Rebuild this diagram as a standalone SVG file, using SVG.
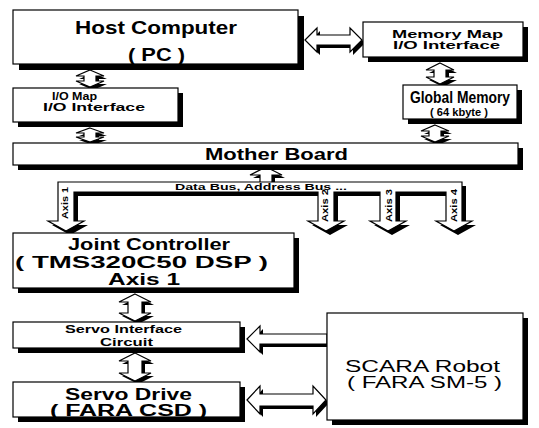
<svg xmlns="http://www.w3.org/2000/svg" xmlns:xlink="http://www.w3.org/1999/xlink" width="539" height="428" viewBox="0 0 539 428">
<style>
.box{fill:#fff;stroke:#000;stroke-width:1.2}
.sh{fill:#000}
.ar{fill:#fff;stroke:#000;stroke-width:1.2;stroke-linejoin:miter}
text{font-family:"Liberation Sans",Arial,sans-serif;fill:#000}
.b{font-weight:bold}
.n{font-weight:normal}
</style>
<defs>
<path id="a_host_io" d="M90,70 L104,76 H96 V81 H104 L90,87 L76,81 H84 V76 H76 Z"/>
<path id="a_io_mb" d="M90,128 L104,133 H96 V137 H104 L90,142 L76,137 H84 V133 H76 Z"/>
<path id="a_mm_gm" d="M440,63 L454,70 H446 V77 H454 L440,84 L426,77 H434 V70 H426 Z"/>
<path id="a_gm_mb" d="M435,125 L449,131 H441 V136 H449 L435,142 L421,136 H429 V131 H421 Z"/>
<path id="a_jc_si" d="M135,294 L151,302 H142 V313 H151 L135,321 L119,313 H128 V302 H119 Z"/>
<path id="a_si_sd" d="M135,353 L151,361 H142 V373 H151 L135,381 L119,373 H128 V361 H119 Z"/>
<path id="a_host_mm" d="M305,40 L317,28 V35 H350 V28 L362,40 L350,52 V45 H317 V52 Z"/>
<path id="a_sd_sc" d="M247,400 L260,386 V394 H313 V386 L326,400 L313,414 V406 H260 V414 Z"/>
<path id="a_sc_si" d="M247,339 L260,326 V334 H327 V344 H260 V352 Z"/>
<path id="a_bus_up" d="M266,167 L282,175 H272 V184 H260 V175 H250 Z"/>
<path id="bus" d="M58,182 H462 V221 H472 L454,231 L436,221 H446 V192 H396 V221 H406 L388,231 L370,221 H380 V192 H334 V221 H344 L326,231 L308,221 H318 V192 H74 V221 H84 L66,231 L48,221 H58 Z"/>
</defs>

<g id="connectors">
  <use xlink:href="#a_host_io" class="sh" transform="translate(3,3)"/><use xlink:href="#a_host_io" class="ar"/>
  <use xlink:href="#a_io_mb" class="sh" transform="translate(3,3)"/><use xlink:href="#a_io_mb" class="ar"/>
  <use xlink:href="#a_mm_gm" class="sh" transform="translate(3,3)"/><use xlink:href="#a_mm_gm" class="ar"/>
  <use xlink:href="#a_gm_mb" class="sh" transform="translate(3,3)"/><use xlink:href="#a_gm_mb" class="ar"/>
  <use xlink:href="#a_jc_si" class="sh" transform="translate(3,3)"/><use xlink:href="#a_jc_si" class="ar"/>
  <use xlink:href="#a_si_sd" class="sh" transform="translate(3,3)"/><use xlink:href="#a_si_sd" class="ar"/>
  <use xlink:href="#a_host_mm" class="sh" transform="translate(3,3)"/><use xlink:href="#a_host_mm" class="ar"/>
  <use xlink:href="#a_sd_sc" class="sh" transform="translate(3,3)"/><use xlink:href="#a_sd_sc" class="ar"/>
  <use xlink:href="#a_sc_si" class="sh" transform="translate(3,3)"/><use xlink:href="#a_sc_si" class="ar"/>
  <use xlink:href="#a_bus_up" class="sh" transform="translate(3,3)"/><use xlink:href="#a_bus_up" class="ar"/>
  <use xlink:href="#bus" class="sh" transform="translate(4,4)"/><use xlink:href="#bus" class="ar"/>
  <text class="b" x="175" y="190" font-size="8.5" textLength="172" lengthAdjust="spacingAndGlyphs">Data Bus,   Address Bus ...</text>
  <text class="b" transform="translate(68,219) rotate(-90)" font-size="8.5" textLength="32" lengthAdjust="spacingAndGlyphs">Axis 1</text>
  <text class="b" transform="translate(328,222) rotate(-90)" font-size="8.5" textLength="33" lengthAdjust="spacingAndGlyphs">Axis 2</text>
  <text class="b" transform="translate(392,222) rotate(-90)" font-size="8.5" textLength="33" lengthAdjust="spacingAndGlyphs">Axis 3</text>
  <text class="b" transform="translate(457,222) rotate(-90)" font-size="8.5" textLength="33" lengthAdjust="spacingAndGlyphs">Axis 4</text>
</g>

<g id="host">
  <rect class="sh" x="19" y="16" width="285" height="54"/>
  <rect class="box" x="13" y="10" width="285" height="54"/>
  <text class="b" x="75" y="34" font-size="18" textLength="162" lengthAdjust="spacingAndGlyphs">Host Computer</text>
  <text class="b" x="128" y="61" font-size="18" textLength="57" lengthAdjust="spacingAndGlyphs">( PC )</text>
</g>

<g id="memmap">
  <rect class="sh" x="368" y="27" width="160" height="35"/>
  <rect class="box" x="363" y="22" width="160" height="35"/>
  <text class="b" x="392" y="38" font-size="10.5" textLength="111" lengthAdjust="spacingAndGlyphs">Memory Map</text>
  <text class="b" x="393" y="49" font-size="10.5" textLength="107" lengthAdjust="spacingAndGlyphs">I/O Interface</text>
</g>

<g id="iomap">
  <rect class="sh" x="18" y="93" width="165" height="34"/>
  <rect class="box" x="13" y="88" width="165" height="34"/>
  <text class="b" x="52" y="100" font-size="10.5" textLength="45" lengthAdjust="spacingAndGlyphs">I/O Map</text>
  <text class="b" x="43" y="111" font-size="10.5" textLength="102" lengthAdjust="spacingAndGlyphs">I/O Interface</text>
</g>

<g id="globalmem">
  <rect class="sh" x="408" y="90" width="114" height="34"/>
  <rect class="box" x="403" y="85" width="114" height="34"/>
  <text class="b" x="410" y="103" font-size="16" textLength="100" lengthAdjust="spacingAndGlyphs">Global Memory</text>
  <text class="b" x="430" y="115.5" font-size="10" textLength="58" lengthAdjust="spacingAndGlyphs">( 64 kbyte )</text>
</g>

<g id="motherboard">
  <rect class="sh" x="18" y="148" width="505" height="22"/>
  <rect class="box" x="13" y="143" width="505" height="22"/>
  <text class="b" x="205" y="160" font-size="17" textLength="143" lengthAdjust="spacingAndGlyphs">Mother Board</text>
</g>

<g id="joint">
  <rect class="sh" x="18" y="238" width="281" height="55"/>
  <rect class="box" x="13" y="233" width="281" height="55"/>
  <text class="b" x="68" y="250" font-size="16" textLength="162" lengthAdjust="spacingAndGlyphs">Joint Controller</text>
  <text class="b" x="15" y="267.5" font-size="16" textLength="253" lengthAdjust="spacingAndGlyphs">( TMS320C50 DSP )</text>
  <text class="b" x="108" y="285" font-size="16" textLength="72" lengthAdjust="spacingAndGlyphs">Axis 1</text>
</g>

<g id="servoif">
  <rect class="sh" x="18" y="327" width="227" height="26"/>
  <rect class="box" x="13" y="322" width="227" height="26"/>
  <text class="b" x="65" y="333" font-size="11.5" textLength="117" lengthAdjust="spacingAndGlyphs">Servo Interface</text>
  <text class="b" x="100" y="346" font-size="11.5" textLength="53" lengthAdjust="spacingAndGlyphs">Circuit</text>
</g>

<g id="servodrive">
  <rect class="sh" x="18" y="387" width="227" height="35"/>
  <rect class="box" x="13" y="382" width="227" height="35"/>
  <text class="b" x="65" y="400" font-size="16" textLength="127" lengthAdjust="spacingAndGlyphs">Servo Drive</text>
  <text class="b" x="50" y="416" font-size="16" textLength="157" lengthAdjust="spacingAndGlyphs">( FARA CSD )</text>
</g>

<g id="scara">
  <rect class="sh" x="332" y="318" width="196" height="107"/>
  <rect class="box" x="327" y="313" width="196" height="107"/>
  <text class="n" x="345" y="372" font-size="16" textLength="155" lengthAdjust="spacingAndGlyphs">SCARA Robot</text>
  <text class="n" x="347" y="388" font-size="16" textLength="155" lengthAdjust="spacingAndGlyphs">( FARA SM-5 )</text>
</g>
</svg>
